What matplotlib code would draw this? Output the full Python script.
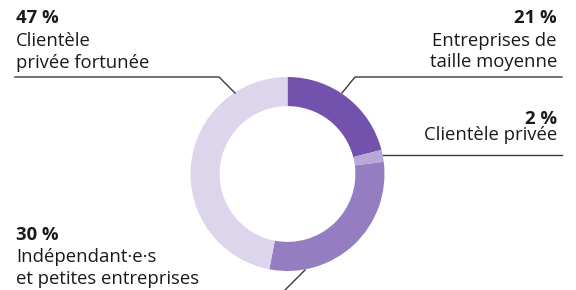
import matplotlib.pyplot as plt

# segment data, clockwise from 12 o'clock
shares = [21, 2, 30, 47]
pct_labels = ["21 %", "2 %", "30 %", "47 %"]
name_lines = [["Entreprises de", "taille moyenne"],
              ["Clientèle privée"],
              ["Indépendant·e·s", "et petites entreprises"],
              ["Clientèle", "privée fortunée"]]
colors = ["#7352ae", "#b9a7da", "#957dc1", "#dcd5eb"]

W, H = 576, 290
plt.rcParams["font.family"] = ["Open Sans", "DejaVu Sans"]

fig = plt.figure(figsize=(W / 100, H / 100), dpi=100)
ax = fig.add_axes([0, 0, 1, 1])

cx, cy, r = 287.5, 116, 97
ax.pie(shares, colors=colors, startangle=90, counterclock=False,
       center=(cx, cy), radius=r, frame=True,
       wedgeprops=dict(width=r * 0.3, linewidth=0))
ax.set_xlim(0, W)
ax.set_ylim(0, H)
ax.set_aspect("equal")
ax.axis("off")


def py(y):
    # pixel row (from top) -> data y
    return H - y


# leader lines
lc = "#3a3a3a"
ax.plot([342, 355, 562], [py(93), py(77), py(77)], color=lc, lw=1)
ax.plot([383, 562], [py(154.5), py(154.5)], color=lc, lw=1)
ax.plot([305, 284], [py(270), py(291)], color=lc, lw=1)
ax.plot([235, 219, 15], [py(93), py(77), py(77)], color=lc, lw=1)

fs = 13.3
tc = "#1a1a1a"
# (x, ha, baseline rows) for each label block
blocks = [(557, "right", [23, 45.5, 67]),
          (557, "right", [124, 140.5]),
          (16, "left", [240, 262, 283.5]),
          (16, "left", [23, 46.5, 68])]

for (x, ha, rows), pct, lines in zip(blocks, pct_labels, name_lines):
    ax.text(x, py(rows[0]), pct, ha=ha, fontsize=fs, fontweight="bold", color=tc)
    for row, line in zip(rows[1:], lines):
        ax.text(x, py(row), line, ha=ha, fontsize=fs, color=tc)

fig.savefig("out.png", dpi=100)
